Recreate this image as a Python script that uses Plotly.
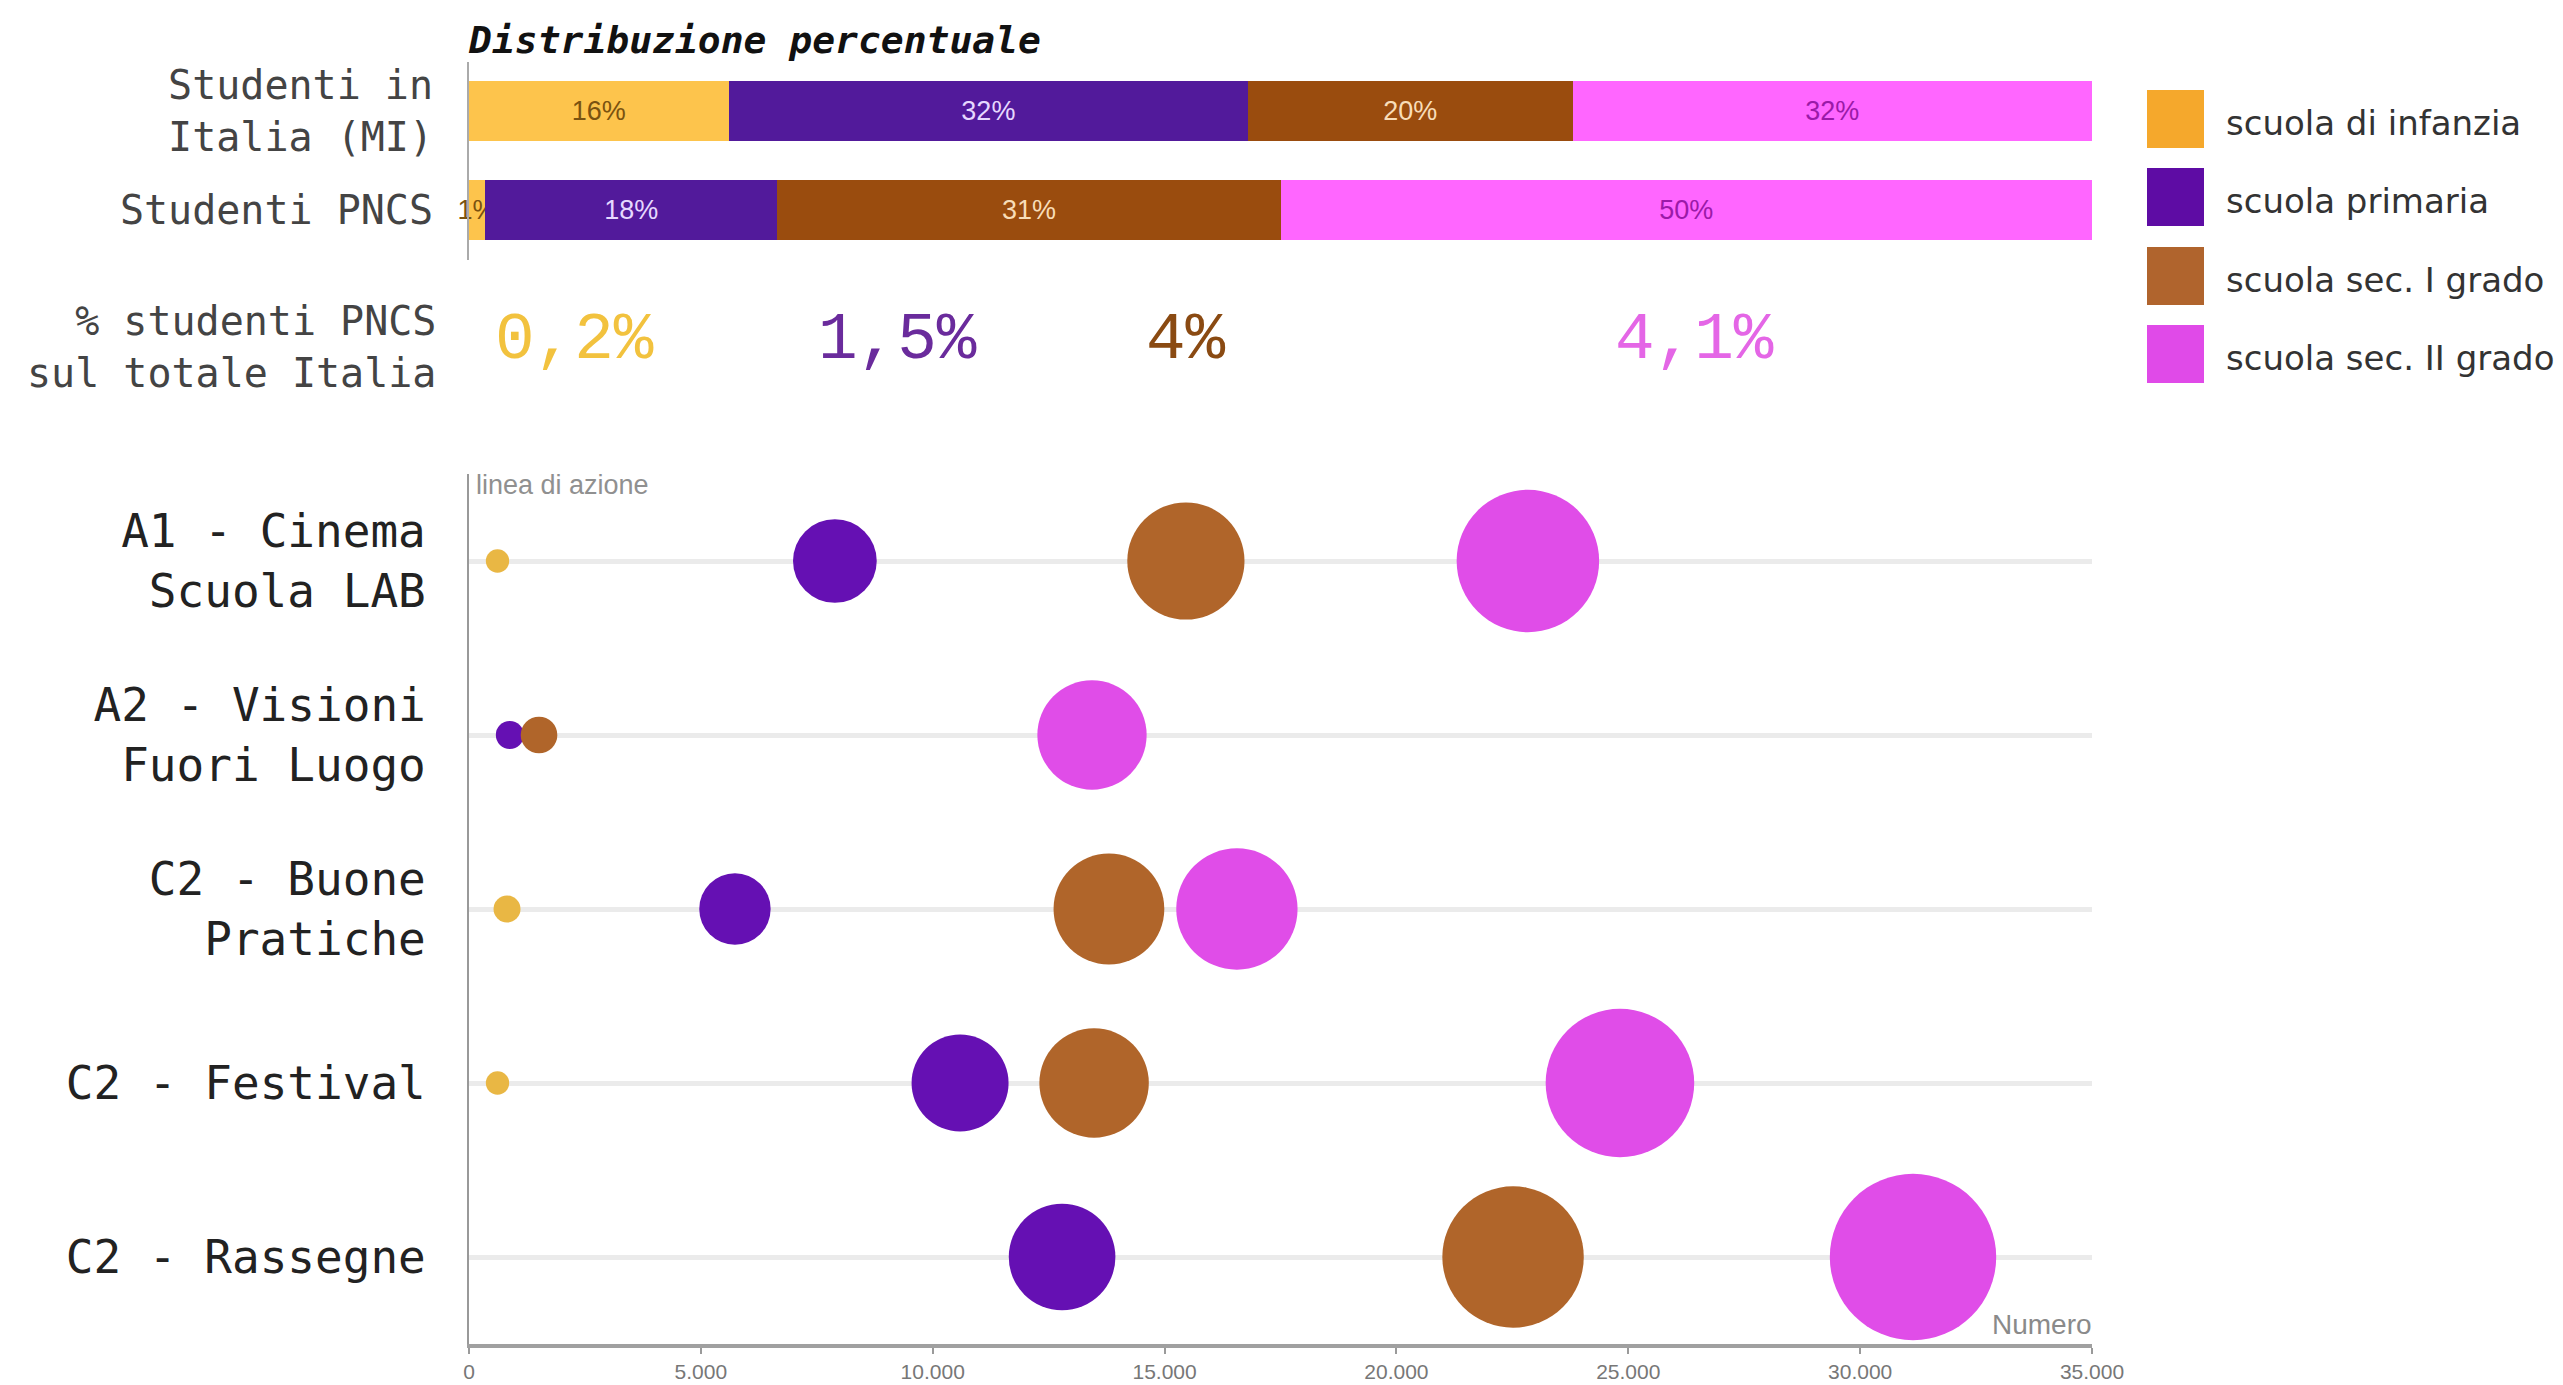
import plotly.graph_objects as go

W, H = 2563, 1385

# ---------------- data ----------------
levels = ["scuola di infanzia", "scuola primaria", "scuola sec. I grado", "scuola sec. II grado"]

bar_rows = ["Studenti in<br>Italia (MI)", "Studenti PNCS"]
share_italia = [16, 32, 20, 32]
share_pncs = [1, 18, 31, 50]

pncs_on_total = ["0,2%", "1,5%", "4%", "4,1%"]

azioni = ["A1 - Cinema<br>Scuola LAB", "A2 - Visioni<br>Fuori Luogo",
          "C2 - Buone<br>Pratiche", "C2 - Festival", "C2 - Rassegne"]
infanzia = [615, None, 820, 615, None]
primaria = [7890, 880, 5735, 10590, 12790]
sec_1 = [15460, 1510, 13800, 13480, 22515]
sec_2 = [22835, 13435, 16560, 24820, 31140]

x_ticks = [0, 5000, 10000, 15000, 20000, 25000, 30000, 35000]

# ---------------- styles ----------------
bar_colors = ["#FDC44C", "#521A9B", "#9A4C0E", "#FF66FF"]
bar_text_colors = ["#7A5210", "#E6D8FF", "#F8DDB8", "#9A1AA8"]
bubble_colors = ["#E9B744", "#6510B3", "#B0652A", "#E04DE8"]
legend_colors = ["#F5A82C", "#5E0CA4", "#B0642D", "#E04AE8"]
value_colors = ["#F2C23E", "#6A2B9C", "#8A4A12", "#E466E6"]

MONO = "DejaVu Sans Mono"


def px_x(p):
    return p / W


def px_y(p):
    return 1 - p / H


fig = go.Figure()

# stacked percentage bars
for i, lvl in enumerate(levels):
    vals = [share_italia[i], share_pncs[i]]
    fig.add_trace(go.Bar(
        y=bar_rows, x=vals, orientation="h", name=lvl,
        marker=dict(color=bar_colors[i], line=dict(width=0)),
        text=[f"{v}%" for v in vals], textposition="inside",
        insidetextanchor="middle", textangle=0,
        textfont=dict(family="Liberation Sans Narrow, Liberation Sans", size=27,
                      color=bar_text_colors[i]),
        cliponaxis=False, xaxis="x2", yaxis="y2", showlegend=False,
    ))

# bubbles
series = [infanzia, primaria, sec_1, sec_2]
for i, lvl in enumerate(levels):
    xs = [v for v in series[i] if v is not None]
    ys = [a for a, v in zip(azioni, series[i]) if v is not None]
    fig.add_trace(go.Scatter(
        x=xs, y=ys, mode="markers", name=lvl,
        marker=dict(size=xs, sizemode="area", sizeref=2.25, color=bubble_colors[i],
                    line=dict(width=0), opacity=1),
        cliponaxis=False, xaxis="x", yaxis="y", showlegend=False,
    ))

x_dom = [px_x(469), px_x(2092)]

fig.update_layout(
    width=W, height=H, margin=dict(l=0, r=0, t=0, b=0, pad=0), autosize=False,
    paper_bgcolor="white", plot_bgcolor="white",
    barmode="stack", bargap=0.39, separators=",.",
    uniformtext=dict(minsize=27, mode="show"),
    xaxis=dict(domain=x_dom, range=[0, 35000], tickvals=x_ticks, tickformat=",",
               ticks="outside", ticklen=6, tickwidth=2, tickcolor="#9a9a9a",
               showline=True, linecolor="#a0a0a0", linewidth=4, automargin=False,
               showgrid=False, zeroline=False, anchor="y",
               tickfont=dict(family="Liberation Sans Narrow, Liberation Sans", size=21, color="#777")),
    yaxis=dict(domain=[px_y(1344), px_y(474)], type="category", categoryarray=azioni,
               range=[4.5, -0.5], showgrid=True, gridcolor="#ebebeb", gridwidth=5,
               showline=True, linecolor="#999", linewidth=2, ticks="", automargin=False,
               ticklabelstandoff=32, zeroline=False, anchor="x",
               tickfont=dict(family=MONO, size=46, color="#222")),
    xaxis2=dict(domain=x_dom, range=[0, 100], showticklabels=False, showgrid=False,
                zeroline=False, showline=False, anchor="y2", automargin=False),
    yaxis2=dict(domain=[px_y(259.5), px_y(61.5)], type="category", categoryarray=bar_rows,
                range=[1.5, -0.5], showline=True, linecolor="#aaa", linewidth=2,
                ticks="", ticklabelstandoff=26, showgrid=False, zeroline=False,
                automargin=False, anchor="x2",
                tickfont=dict(family=MONO, size=40, color="#444")),
)

ann = []
# title
ann.append(dict(text="<b><i>Distribuzione percentuale</i></b>", xref="paper", yref="paper",
                x=px_x(466), y=px_y(40), xanchor="left", yanchor="middle", showarrow=False,
                font=dict(family=MONO, size=38, color="#111")))
# row label for percentages
ann.append(dict(text="% studenti PNCS<br>sul totale Italia", xref="paper", yref="paper",
                x=px_x(438), y=px_y(347), xanchor="right", yanchor="middle", align="right",
                showarrow=False, font=dict(family=MONO, size=40, color="#444")))
# values
value_x_px = [574, 897, 1186, 1694]
for txt, xp, c in zip(pncs_on_total, value_x_px, value_colors):
    ann.append(dict(text=txt, xref="paper", yref="paper", x=px_x(xp), y=px_y(341),
                    xanchor="center", yanchor="middle", showarrow=False,
                    font=dict(family="Liberation Mono", size=66, color=c)))
# axis titles
ann.append(dict(text="linea di azione", xref="paper", yref="paper", x=px_x(474), y=px_y(485),
                xanchor="left", yanchor="middle", showarrow=False,
                font=dict(family="Liberation Sans", size=27, color="#909090")))
ann.append(dict(text="Numero", xref="paper", yref="paper", x=px_x(2094), y=px_y(1324),
                xanchor="right", yanchor="middle", showarrow=False,
                font=dict(family="Liberation Sans", size=28, color="#8a8a8a")))

# legend (manual)
shapes = []
leg_y = [119, 197, 276, 354]
for lvl, c, yc in zip(levels, legend_colors, leg_y):
    shapes.append(dict(type="rect", xref="paper", yref="paper",
                       x0=px_x(2147), x1=px_x(2204), y0=px_y(yc + 29), y1=px_y(yc - 29),
                       fillcolor=c, line=dict(width=0)))
    ann.append(dict(text=lvl, xref="paper", yref="paper", x=px_x(2224), y=px_y(yc + 4),
                    xanchor="left", yanchor="middle", showarrow=False,
                    font=dict(family="DejaVu Sans", size=34, color="#333")))

fig.update_layout(annotations=ann, shapes=shapes)

fig.write_html("out.html", config={"displayModeBar": False},
               post_script="document.body.style.margin='0';")
